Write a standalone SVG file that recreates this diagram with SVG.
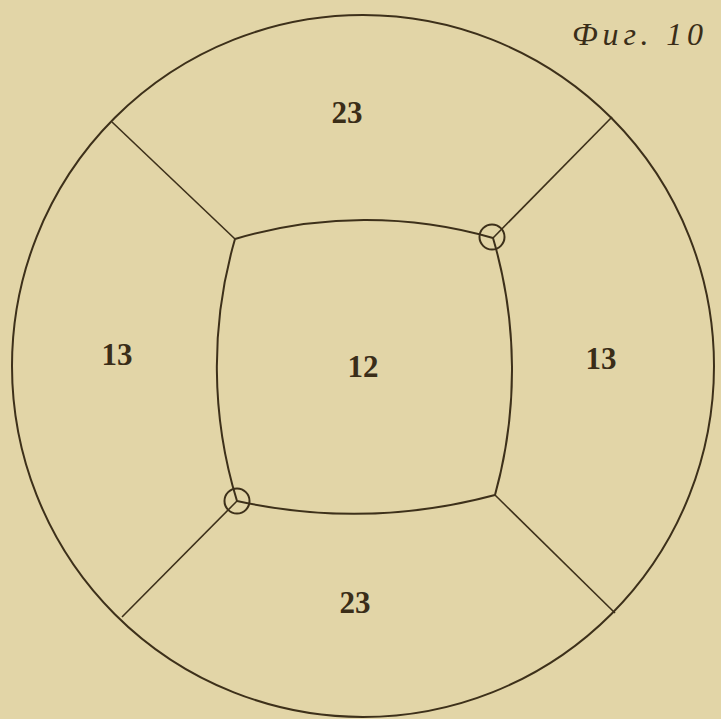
<svg xmlns="http://www.w3.org/2000/svg" width="721" height="719" viewBox="0 0 721 719">
<style>
.ln{fill:none;stroke:#3d301a;stroke-width:2}
.thin{fill:none;stroke:#3d301a;stroke-width:1.6}
.num{font-family:"Liberation Serif","DejaVu Serif",serif;font-size:31px;font-weight:bold;fill:#3a2d18;text-anchor:middle}
.cap{font-family:"Liberation Serif","DejaVu Serif",serif;font-style:italic;font-size:32px;fill:#3a2d18}
</style>
<rect width="721" height="719" fill="#e2d5a7"/>
<g id="outer">
<circle class="ln" cx="363" cy="366" r="351"/>
</g>
<g id="connectors">
<line class="thin" x1="112" y1="122" x2="235" y2="239"/>
<line class="thin" x1="612" y1="117" x2="493" y2="238"/>
<line class="thin" x1="122" y1="617" x2="237" y2="501"/>
<line class="thin" x1="615" y1="613" x2="495" y2="495"/>
</g>
<g id="inner">
<path class="ln" d="M235,239 A459,459 0 0 1 493,238 A468,468 0 0 1 495,495 A545,545 0 0 1 237,501 A458,458 0 0 1 235,239 Z"/>
</g>
<g id="mark-tr"><circle class="ln" cx="492" cy="237" r="12.5"/></g>
<g id="mark-bl"><circle class="ln" cx="237" cy="501" r="12.5"/></g>
<g id="labels">
<text class="num" x="347" y="123">23</text>
<text class="num" x="117" y="365">13</text>
<text class="num" x="363" y="377">12</text>
<text class="num" x="601" y="369">13</text>
<text class="num" x="355" y="613">23</text>
</g>
<text class="cap" x="572" y="45" textLength="131" lengthAdjust="spacing">Фиг. 10</text>
</svg>
